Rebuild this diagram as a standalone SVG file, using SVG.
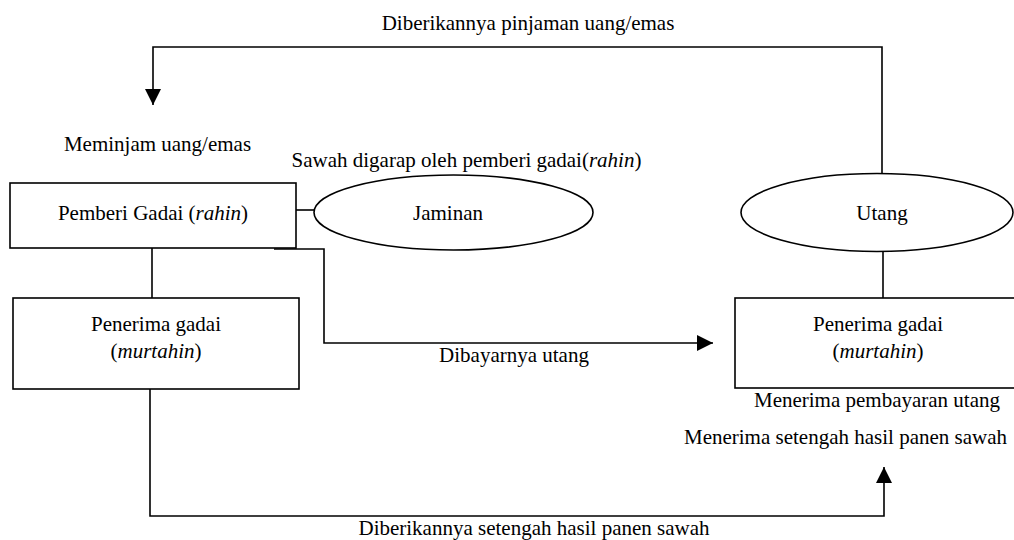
<svg xmlns="http://www.w3.org/2000/svg" width="1014" height="540" viewBox="0 0 1014 540">
<style>
text{font-family:"Liberation Serif","Times New Roman",serif;font-size:21px;fill:#000;text-anchor:middle}
.it{font-style:italic}
.box{fill:#fff;stroke:#000;stroke-width:1.6}
.conn{fill:none;stroke:#000;stroke-width:1.6}
</style>
<defs>
<marker id="arr" markerUnits="userSpaceOnUse" markerWidth="16" markerHeight="16" refX="16" refY="8" orient="auto">
<path d="M0,0 L16,8 L0,16 z" fill="#000"/>
</marker>
</defs>
<rect width="1014" height="540" fill="#fff"/>
<g id="connectors">
<path class="conn" d="M882,173 L882,47 L153,47 L153,105" marker-end="url(#arr)"/>
<path class="conn" d="M296,210 L314,210"/>
<path class="conn" d="M152,248 L152,298"/>
<path class="conn" d="M274,249 L324,249 L324,343 L713,343" marker-end="url(#arr)"/>
<path class="conn" d="M883,252 L883,298"/>
<path class="conn" d="M150,389 L150,516 L884,516 L884,467" marker-end="url(#arr)"/>
</g>
<g id="pemberi">
<rect class="box" x="10" y="183" width="286" height="65"/>
<text x="153" y="220">Pemberi Gadai (<tspan class="it">rahin</tspan>)</text>
</g>
<g id="jaminan">
<ellipse class="box" cx="453.5" cy="212.5" rx="139.5" ry="37.5"/>
<text x="448" y="220">Jaminan</text>
</g>
<g id="utang">
<ellipse class="box" cx="877" cy="212.5" rx="136" ry="39"/>
<text x="882" y="220">Utang</text>
</g>
<g id="penerima-left">
<rect class="box" x="13" y="298" width="286" height="91"/>
<text x="156" y="331">Penerima gadai</text>
<text x="156" y="358">(<tspan class="it">murtahin</tspan>)</text>
</g>
<g id="penerima-right">
<rect class="box" x="735" y="298" width="290" height="90"/>
<text x="878" y="331">Penerima gadai</text>
<text x="878" y="358">(<tspan class="it">murtahin</tspan>)</text>
</g>
<g id="labels">
<text x="528" y="30">Diberikannya pinjaman uang/emas</text>
<text x="157.5" y="151">Meminjam uang/emas</text>
<text x="466.5" y="167">Sawah digarap oleh pemberi gadai(<tspan class="it">rahin</tspan>)</text>
<text x="514" y="362">Dibayarnya utang</text>
<text x="877" y="407">Menerima pembayaran utang</text>
<text x="845.5" y="444">Menerima setengah hasil panen sawah</text>
<text x="534" y="535">Diberikannya setengah hasil panen sawah</text>
</g>
</svg>
